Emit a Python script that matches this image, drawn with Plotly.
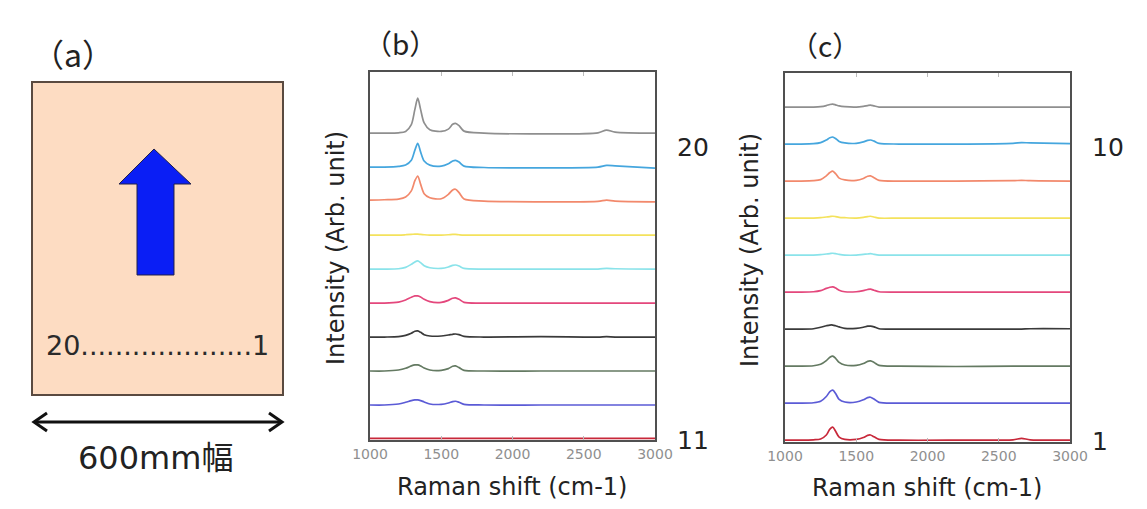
import plotly.graph_objects as go

# page is 1147x509; body margin of 8px -> figure 1131x493 placed at (8,8)
PAGE_W, PAGE_H = 1147, 509
OFF = 8
W, H = PAGE_W - 2 * OFF, PAGE_H - 2 * OFF

# ---------------- data ----------------
RAMAN_SHIFT = [1000, 1100, 1200, 1250, 1290, 1315, 1335, 1355, 1380, 1420, 1500,
               1550, 1580, 1600, 1625, 1660, 1800, 2200, 2600, 2660, 2720, 3000]

# panel (b): positions 20 .. 11 (top to bottom)
B_GRAY    = [0, 0, 0.01, 0.05, 0.25, 0.7, 1.03, 0.7, 0.3, 0.1, 0.05, 0.12, 0.26, 0.29, 0.22, 0.06, 0, -0.02, 0.01, 0.09, 0.03, 0]
B_SKY     = [0, 0, 0.02, 0.06, 0.2, 0.5, 0.7, 0.45, 0.18, 0.06, 0.03, 0.1, 0.18, 0.2, 0.15, 0.03, -0.01, -0.02, 0, 0.05, 0.04, -0.03]
B_SALMON  = [0.03, 0.04, 0.06, 0.12, 0.3, 0.6, 0.74, 0.5, 0.22, 0.1, 0.07, 0.2, 0.33, 0.35, 0.25, 0.06, 0, -0.02, -0.01, 0.03, 0, -0.02]
B_YELLOW  = [0, 0, 0, 0.01, 0.02, 0.03, 0.03, 0.02, 0.01, 0, 0, 0.01, 0.02, 0.02, 0.01, 0, 0, 0, 0, 0, 0, 0]
B_CYAN    = [0, 0, 0.01, 0.05, 0.14, 0.21, 0.24, 0.19, 0.1, 0.04, 0.02, 0.06, 0.11, 0.12, 0.09, 0.02, 0, 0, 0, 0.02, 0.01, 0]
B_PINK    = [0, 0, 0.03, 0.09, 0.17, 0.21, 0.21, 0.18, 0.11, 0.04, 0.02, 0.08, 0.14, 0.15, 0.11, 0.02, 0, 0, 0, 0, 0, 0]
B_BLACK   = [0, 0, 0.01, 0.05, 0.11, 0.17, 0.18, 0.14, 0.07, 0.03, 0.03, 0.06, 0.08, 0.09, 0.07, 0.02, 0, 0.01, 0, 0.01, 0, 0]
B_GREEN   = [0, 0, 0.03, 0.08, 0.15, 0.18, 0.18, 0.15, 0.09, 0.03, 0.02, 0.07, 0.14, 0.15, 0.1, 0.02, 0, 0, 0, 0, 0, 0]
B_BLUE    = [0, 0, 0.03, 0.08, 0.13, 0.15, 0.15, 0.13, 0.09, 0.03, 0.02, 0.06, 0.1, 0.11, 0.08, 0.02, 0, 0, 0, 0, 0, 0]
B_RED     = [0.02] * 22

# panel (c): positions 10 .. 1 (top to bottom)
C_GRAY    = [0, 0, 0, 0.01, 0.04, 0.07, 0.08, 0.06, 0.03, 0.01, 0, 0.02, 0.04, 0.05, 0.03, 0, 0, 0, 0, 0, 0, 0]
C_SKY     = [0, 0, 0.01, 0.04, 0.11, 0.17, 0.19, 0.15, 0.07, 0.03, 0.02, 0.06, 0.1, 0.11, 0.08, 0.02, 0, 0, 0.02, 0.04, 0.03, 0.01]
C_SALMON  = [0, 0, 0.01, 0.04, 0.14, 0.23, 0.27, 0.2, 0.08, 0.03, 0.02, 0.07, 0.13, 0.14, 0.09, 0.02, 0, 0, 0.01, 0.02, 0.01, 0]
C_YELLOW  = [0, 0, 0, 0.01, 0.03, 0.04, 0.05, 0.04, 0.02, 0.01, 0, 0.02, 0.04, 0.05, 0.03, 0, 0, 0, 0, 0, 0, 0]
C_CYAN    = [0, 0, 0, 0.01, 0.03, 0.04, 0.05, 0.04, 0.02, 0, 0, 0.02, 0.03, 0.04, 0.02, 0, 0, 0, 0, 0, 0, 0]
C_PINK    = [0, 0, 0.01, 0.04, 0.1, 0.13, 0.14, 0.11, 0.05, 0.01, 0.01, 0.04, 0.07, 0.08, 0.05, 0.01, 0, 0, 0, 0, 0, 0]
C_BLACK   = [0, 0, 0.01, 0.05, 0.09, 0.11, 0.11, 0.09, 0.06, 0.02, 0.02, 0.05, 0.08, 0.08, 0.06, 0.01, 0, 0, 0, 0, 0.01, 0.01]
C_GREEN   = [0, 0, 0.01, 0.05, 0.15, 0.24, 0.27, 0.21, 0.1, 0.03, 0.02, 0.07, 0.13, 0.14, 0.1, 0.02, 0, -0.01, 0, 0, 0, 0]
C_BLUE    = [0, 0, 0.01, 0.05, 0.18, 0.31, 0.35, 0.26, 0.1, 0.03, 0.03, 0.09, 0.15, 0.16, 0.11, 0.02, 0, 0, 0, 0, 0, 0]
C_RED     = [0, 0, 0.01, 0.03, 0.14, 0.3, 0.35, 0.24, 0.08, 0.02, 0.02, 0.07, 0.13, 0.14, 0.09, 0.02, 0, 0, 0.01, 0.05, 0.01, 0]

B_SERIES = [B_GRAY, B_SKY, B_SALMON, B_YELLOW, B_CYAN, B_PINK, B_BLACK, B_GREEN, B_BLUE, B_RED]
C_SERIES = [C_GRAY, C_SKY, C_SALMON, C_YELLOW, C_CYAN, C_PINK, C_BLACK, C_GREEN, C_BLUE, C_RED]
B_NAMES = ["20", "19", "18", "17", "16", "15", "14", "13", "12", "11"]
C_NAMES = ["10", "9", "8", "7", "6", "5", "4", "3", "2", "1"]
OFFSETS = [9, 8, 7, 6, 5, 4, 3, 2, 1, 0]
X_TICKS = [1000, 1500, 2000, 2500, 3000]

COLORS = ["#8f8f8f", "#45a6de", "#f2896c", "#f4e25c", "#8ae3ea",
          "#e4477c", "#3a3a3a", "#647a62", "#5b5bd6", "#c8283a"]

FONT = "DejaVu Sans, Noto Sans CJK JP"
CJK = "Noto Sans CJK JP"


def px(x):
    return (x - OFF) / W


def py(y):
    return 1 - (y - OFF) / H


fig = go.Figure()

for i, (s, nm) in enumerate(zip(B_SERIES, B_NAMES)):
    fig.add_trace(go.Scatter(
        x=RAMAN_SHIFT, y=[v + OFFSETS[i] for v in s], mode="lines", name=nm,
        line=dict(color=COLORS[i], width=1.7, shape="spline", smoothing=0.8),
        xaxis="x", yaxis="y", showlegend=False))

for i, (s, nm) in enumerate(zip(C_SERIES, C_NAMES)):
    fig.add_trace(go.Scatter(
        x=RAMAN_SHIFT, y=[v + OFFSETS[i] for v in s], mode="lines", name=nm,
        line=dict(color=COLORS[i], width=1.7, shape="spline", smoothing=0.8),
        xaxis="x2", yaxis="y2", showlegend=False))

xax = dict(range=[1000, 3000], tickvals=X_TICKS, ticks="inside", ticklen=4,
           tickcolor="#bbbbbb", mirror="ticks", showline=True, linecolor="#505050",
           linewidth=1.6, showgrid=False, zeroline=False, automargin=False,
           tickfont=dict(family=FONT, size=14, color="#8f8f8f"))
yax = dict(showticklabels=False, ticks="", showline=True, mirror=True, automargin=False,
           linecolor="#505050", linewidth=1.6, showgrid=False, zeroline=False)

fig.update_layout(
    width=W, height=H, autosize=False,
    margin=dict(l=0, r=0, t=0, b=0, pad=0, autoexpand=False),
    paper_bgcolor="white", plot_bgcolor="white", showlegend=False,
    xaxis=dict(xax, domain=[px(370), px(655)], anchor="y"),
    yaxis=dict(yax, domain=[py(440), py(72)], range=[-0.03, 10.8], anchor="x"),
    xaxis2=dict(xax, domain=[px(785), px(1070)], anchor="y2"),
    yaxis2=dict(yax, domain=[py(442), py(73)], range=[-0.05, 9.92], anchor="x2"),
)

shapes = []
# panel (a): sheet
shapes.append(dict(type="rect", xref="paper", yref="paper",
                   x0=px(32), x1=px(283), y0=py(395), y1=py(82),
                   fillcolor="#fddcc2", line=dict(color="#5a4a40", width=2), layer="below"))
# blue arrow
pts = [(137, 275), (137, 184), (119, 184), (154, 149), (191, 184), (174, 184), (174, 275)]
path = "M " + " L ".join(f"{px(x):.5f},{py(y):.5f}" for x, y in pts) + " Z"
shapes.append(dict(type="path", xref="paper", yref="paper", path=path,
                   fillcolor="#0a1ef5", line=dict(color="#20204a", width=1)))
# double-headed width arrow
shapes.append(dict(type="line", xref="paper", yref="paper",
                   x0=px(35), x1=px(281), y0=py(422), y1=py(422),
                   line=dict(color="#111111", width=3)))
for tip, d in [(34, 1), (282, -1)]:
    p = (f"M {px(tip + d*13):.5f},{py(413):.5f} L {px(tip):.5f},{py(422):.5f} "
         f"L {px(tip + d*13):.5f},{py(431):.5f}")
    shapes.append(dict(type="path", xref="paper", yref="paper", path=p,
                       line=dict(color="#111111", width=3)))
fig.update_layout(shapes=shapes)

ann = []


def text(x, y, s, size, color="#222222", angle=0, family=FONT):
    ann.append(dict(x=px(x), y=py(y), xref="paper", yref="paper", text=s,
                    showarrow=False, xanchor="center", yanchor="middle", textangle=angle,
                    font=dict(family=family, size=size, color=color)))


text(73, 53, "（a）", 32, family=CJK)
text(400, 43, "（b）", 28, family=CJK)
text(825, 45, "（c）", 28, family=CJK)
text(157, 345, "20" + "." * 20 + "1", 27, color="#2a2a2a")
text(155, 458, "600mm幅", 32)
text(693, 147, "20", 25)
text(693, 440, "11", 25)
text(1108, 148, "10", 25)
text(1100, 441, "1", 25)
text(512, 487, "Raman shift (cm-1)", 24)
text(927, 488, "Raman shift (cm-1)", 24)
text(336, 248, "Intensity (Arb. unit)", 24, angle=-90)
text(750, 250, "Intensity (Arb. unit)", 24, angle=-90)
fig.update_layout(annotations=ann)

fig.write_html("out.html")
